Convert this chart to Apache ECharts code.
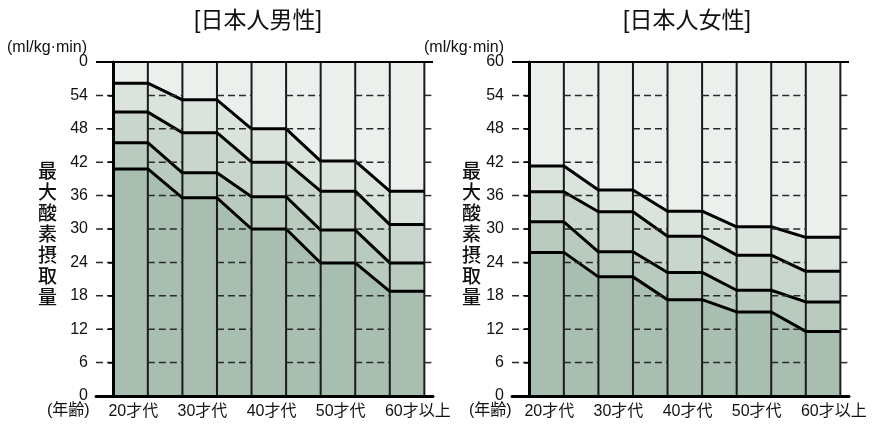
<!DOCTYPE html>
<html>
<head>
<meta charset="utf-8">
<script src="https://cdn.jsdelivr.net/npm/echarts@6/dist/echarts.min.js"></script>
<style>
  html, body { margin: 0; padding: 0; background: #fff; }
</style>
</head>
<body>
<div id="main" style="width: 888px;height:426px;"></div>
<script>
// 年代カテゴリ
var ages = ['20才代', '30才代', '40才代', '50才代', '60才以上'];

// 男性 (下の線から順に)
var maleL1 = [40.8, 35.6, 30.0, 23.9, 18.8];
var maleL2 = [45.5, 40.1, 35.8, 29.8, 23.9];
var maleL3 = [51.0, 47.3, 42.0, 36.8, 30.8];
var maleL4 = [56.2, 53.2, 48.0, 42.2, 36.8];

// 女性
var femaleL1 = [25.8, 21.4, 17.3, 15.1, 11.6];
var femaleL2 = [31.3, 25.9, 22.2, 19.0, 16.9];
var femaleL3 = [36.7, 33.1, 28.7, 25.3, 22.4];
var femaleL4 = [41.3, 37.0, 33.2, 30.4, 28.5];

// 目盛りラベル (男性の上端は元図どおり "0")
var yTicksMale = ['0', '6', '12', '18', '24', '30', '36', '42', '48', '54', '0'];
var yTicksFemale = ['0', '6', '12', '18', '24', '30', '36', '42', '48', '54', '60'];

var FONT = "'Liberation Sans', 'Noto Sans CJK JP', sans-serif";
var fills = ['#a7beb0', '#b9cabf', '#c9d6cd', '#dbe3dd', '#ecf0ed'];
var X_MIN = -0.5, X_MAX = 9.25;

// 階段状の点列: 各年代は1列分の平らな部分、その間は斜めにつなぐ
function steps(vals) {
    var pts = [];
    vals.forEach(function (v, i) {
        pts.push([2 * i, v]);
        pts.push([2 * i + 1, v]);
    });
    return pts;
}

function areaSeries(k, vals, color) {
    return {
        type: 'line',
        xAxisIndex: k,
        yAxisIndex: k,
        data: steps(vals),
        symbol: 'none',
        silent: true,
        lineStyle: { color: '#000', width: 3 },
        areaStyle: { color: color, opacity: 1 }
    };
}

// 点線は斜め部分の列と左右の余白だけに出る
var dashSegs = [[X_MIN, 0], [1, 2], [3, 4], [5, 6], [7, 8], [9, X_MAX]];
var dashData = [];
for (var y = 6; y <= 54; y += 6) {
    dashSegs.forEach(function (s) { dashData.push([s[0], s[1], y]); });
}
var vBounds = [];
for (var b = 0; b <= 2 * ages.length - 1; b++) vBounds.push([b]);

function buildSeries(k, lines) {
    var s = [];
    s.push({
        type: 'line',
        xAxisIndex: k,
        yAxisIndex: k,
        data: [[0, 60], [2 * ages.length - 1, 60]],
        symbol: 'none',
        silent: true,
        lineStyle: { width: 0 },
        areaStyle: { color: fills[4], opacity: 1 },
        markLine: {
            silent: true,
            symbol: 'none',
            label: { show: false },
            lineStyle: { color: '#000', width: 2, type: 'solid' },
            data: [{ yAxis: 60 }]
        }
    });
    s.push(areaSeries(k, lines[3], fills[3]));
    s.push(areaSeries(k, lines[2], fills[2]));
    s.push(areaSeries(k, lines[1], fills[1]));
    s.push(areaSeries(k, lines[0], fills[0]));
    // 縦の区切り線
    s.push({
        type: 'custom',
        xAxisIndex: k,
        yAxisIndex: k,
        silent: true,
        z: 3,
        data: vBounds,
        renderItem: function (params, api) {
            var p0 = api.coord([api.value(0), 0]);
            var p1 = api.coord([api.value(0), 60]);
            return {
                type: 'line',
                shape: { x1: p0[0], y1: p0[1], x2: p1[0], y2: p1[1] },
                style: { stroke: '#1a1a1a', lineWidth: 2 }
            };
        }
    });
    // 点線の目盛り線
    s.push({
        type: 'custom',
        xAxisIndex: k,
        yAxisIndex: k,
        silent: true,
        z: 4,
        data: dashData,
        renderItem: function (params, api) {
            var p0 = api.coord([api.value(0), api.value(2)]);
            var p1 = api.coord([api.value(1), api.value(2)]);
            return {
                type: 'line',
                shape: { x1: p0[0], y1: p0[1], x2: p1[0], y2: p1[1] },
                style: { stroke: '#2a2a2a', lineWidth: 1.5, lineDash: [7, 4] }
            };
        }
    });
    return s;
}

function xAxisCfg(k) {
    return {
        gridIndex: k,
        type: 'value',
        min: X_MIN,
        max: X_MAX,
        z: 10,
        axisLine: { lineStyle: { color: '#000', width: 3 } },
        axisTick: { show: false },
        splitLine: { show: false },
        axisLabel: {
            customValues: ages.map(function (a, i) { return 2 * i - 0.14; }),
            formatter: function (v) { return ages[Math.round((v + 0.14) / 2)]; },
            align: 'left',
            margin: 8,
            color: '#111',
            fontSize: 16,
            fontFamily: FONT
        }
    };
}

function yAxisCfg(k, ticks) {
    return {
        gridIndex: k,
        type: 'value',
        min: 0,
        max: 60,
        interval: 6,
        z: 10,
        axisLine: { show: true, lineStyle: { color: '#000', width: 3 } },
        axisTick: { show: true, length: 5, lineStyle: { color: '#000', width: 1.5 } },
        splitLine: { show: false },
        axisLabel: {
            formatter: function (v) { return ticks[Math.round(v / 6)]; },
            margin: 8,
            color: '#111',
            fontSize: 16,
            fontFamily: FONT
        }
    };
}

function vText(x, txt) {
    return {
        type: 'text',
        left: x,
        top: 162,
        style: {
            text: txt.split('').join('\n'),
            font: '500 19px ' + FONT,
            lineHeight: 21,
            fill: '#111',
            textAlign: 'center'
        }
    };
}

function plainText(x, y, txt) {
    return {
        type: 'text',
        left: x,
        top: y,
        style: { text: txt, font: '16px ' + FONT, fill: '#111' }
    };
}

var myChart = echarts.init(document.getElementById('main'));
myChart.setOption({
    animation: false,
    title: [
        { text: '[日本人男性]', left: 253, top: 5, textAlign: 'center',
          textStyle: { fontSize: 23, fontWeight: 'normal', color: '#111', fontFamily: FONT } },
        { text: '[日本人女性]', left: 682, top: 5, textAlign: 'center',
          textStyle: { fontSize: 23, fontWeight: 'normal', color: '#111', fontFamily: FONT } }
    ],
    grid: [
        { left: 96, top: 62, width: 337, height: 334 },
        { left: 512, top: 62, width: 337, height: 334 }
    ],
    xAxis: [xAxisCfg(0), xAxisCfg(1)],
    yAxis: [yAxisCfg(0, yTicksMale), yAxisCfg(1, yTicksFemale)],
    graphic: [
        plainText(7, 40, '(ml/kg·min)'),
        plainText(424, 40, '(ml/kg·min)'),
        plainText(47, 403, '(年齢)'),
        plainText(469, 403, '(年齢)'),
        vText(38, '最大酸素摂取量'),
        vText(462, '最大酸素摂取量')
    ],
    series: buildSeries(0, [maleL1, maleL2, maleL3, maleL4])
        .concat(buildSeries(1, [femaleL1, femaleL2, femaleL3, femaleL4]))
});
</script>
</body>
</html>
